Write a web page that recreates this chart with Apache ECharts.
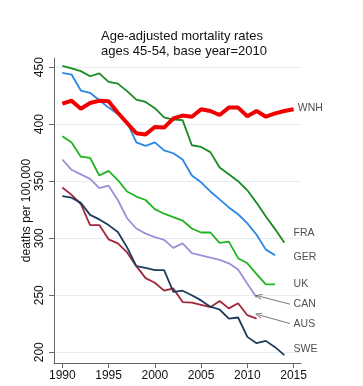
<!DOCTYPE html>
<html>
<head>
<meta charset="utf-8">
<script src="https://cdn.jsdelivr.net/npm/echarts@6/dist/echarts.min.js"></script>
<style>
html,body{margin:0;padding:0;background:#fff;}
#c{width:363px;height:386px;}
</style>
</head>
<body>
<div id="c"></div>
<script>
var years = [1990,1991,1992,1993,1994,1995,1996,1997,1998,1999,2000,2001,2002,2003,2004,2005,2006,2007,2008,2009,2010,2011,2012,2013,2014,2015];
var WNH = [418,420.5,413.5,418.5,420.5,420,410,401,392,391,397.5,397,405,407.5,406.5,413,411.5,408,414.5,414.5,407,411.5,406.5,409.5,411.5,413];
var FRA = [451,449,446.5,442,444.5,437,435.5,429,421.5,419.5,414,406,404,403.5,381.5,380,375.5,362,356,350,342,331,319,308,296];
var GER = [445,443.5,429.5,427.5,421,414.5,409,401.5,384,381,384,377,374.5,369,355,349,341,334,327,321,313,303,290,285];
var UK  = [389.5,384,371.5,370.5,355,359,351,341,336.5,333.5,325.5,321.5,318.5,315.5,308.5,305,305,296,297,282.5,278,268.5,259.5,259.5];
var CAN = [369,360,356,352,344,346,333.5,317.5,308.5,304,301,298.5,291.5,295.5,287,285,283,281,278,272.5,260,248];
var AUS = [344.5,338,330,311.5,311.5,299,295.5,287.5,275.5,265,261,254,256,244,243.5,241.5,239.5,245,238.5,243,232.5,229.5];
var SWE = [337,335.5,331,320.5,316.5,311.5,305.5,292,275.5,274,272,272,253,254,250,245.5,240,237.5,229.5,230.5,213.5,208,210,204.5,197.5];

var xTicks = [1990,1995,2000,2005,2010,2015];
var yTicks = [200,250,300,350,400,450];

var labelNames = ['WNH','FRA','GER','UK','CAN','AUS','SWE'];
var labelX = [2015.45,2015,2015,2015,2015,2015,2015];
var labelY = [414.5,304.2,283.7,259.7,241.9,224.6,202.6];

var arrowFrom = [[2014.6,242.2],[2014.6,225.2]];
var arrowTo = [[2011.2,249.3],[2011.2,232.9]];

var FONT = 'Liberation Sans, Arial, Helvetica, sans-serif';

function pairs(arr){ return arr.map(function(v,i){ return [years[i], v]; }); }

var seriesDefs = [
  {name:'FRA', data:FRA, color:'#198a1f', width:1.8},
  {name:'GER', data:GER, color:'#2b86e6', width:1.8},
  {name:'UK', data:UK, color:'#21b421', width:1.8},
  {name:'CAN', data:CAN, color:'#9d8fd8', width:1.8},
  {name:'AUS', data:AUS, color:'#a0283c', width:1.8},
  {name:'SWE', data:SWE, color:'#1d3c5c', width:1.8},
  {name:'WNH', data:WNH, color:'#f00000', width:4}
];

var series = seriesDefs.map(function(d){
  return {
    type:'line', name:d.name, data:pairs(d.data), symbol:'none',
    lineStyle:{color:d.color, width:d.width}, itemStyle:{color:d.color},
    z: d.name==='WNH'?5:3, animation:false
  };
});

series.push({
  type:'scatter', name:'labels', symbolSize:0, animation:false, silent:true,
  data: labelNames.map(function(n,i){ return {value:[labelX[i], labelY[i]], name:n}; }),
  label:{show:true, position:'right', distance:0, formatter:function(p){return p.name;},
    color:'#222', fontSize:10.5, fontFamily:FONT},
  markLine:{
    silent:true, animation:false,
    symbol:['none','path://M5,0 L10,10 L8.6,10 L5,2.6 L1.4,10 L0,10 Z'],
    symbolSize:[6,7],
    lineStyle:{color:'#555', width:0.8, type:'solid'},
    label:{show:false},
    data: arrowFrom.map(function(f,i){ return [{coord:f},{coord:arrowTo[i]}]; })
  }
});

var chart = echarts.init(document.getElementById('c'), null, {renderer:'canvas'});
chart.setOption({
  backgroundColor:'#fff',
  animation:false,
  title:[
    {text:'Age-adjusted mortality rates', left:177, top:25, textAlign:'center',
     textStyle:{fontSize:13, fontWeight:'normal', color:'#111', fontFamily:FONT}},
    {text:'ages 45-54, base year=2010', left:179, top:40, textAlign:'center',
     textStyle:{fontSize:13, fontWeight:'normal', color:'#111', fontFamily:FONT}}
  ],
  grid:{left:54, right:62, top:58, bottom:23, containLabel:false},
  xAxis:{
    type:'value', min:1989.1, max:2015.8,
    axisLine:{show:true, lineStyle:{color:'#666', width:1}},
    axisTick:{show:true, customValues:xTicks, length:5, lineStyle:{color:'#666'}},
    axisLabel:{customValues:xTicks, color:'#111', fontSize:12, fontFamily:FONT, margin:7,
      formatter:function(v){ return String(Math.round(v)); }},
    splitLine:{show:false}
  },
  yAxis:{
    type:'value', min:190.6, max:458,
    name:'deaths per 100,000', nameLocation:'middle', nameGap:21, nameMoveOverlap:false,
    nameTextStyle:{fontSize:12, color:'#111', fontFamily:FONT},
    axisLine:{show:true, lineStyle:{color:'#666', width:1}},
    axisTick:{show:true, customValues:yTicks, length:5, lineStyle:{color:'#666'}},
    axisLabel:{customValues:yTicks, rotate:90, color:'#111', fontSize:12, fontFamily:FONT, margin:8,
      formatter:function(v){ return String(Math.round(v)); }},
    splitLine:{show:true, lineStyle:{color:'#e3ecf0', width:1}}
  },
  series:series
});
</script>
</body>
</html>
